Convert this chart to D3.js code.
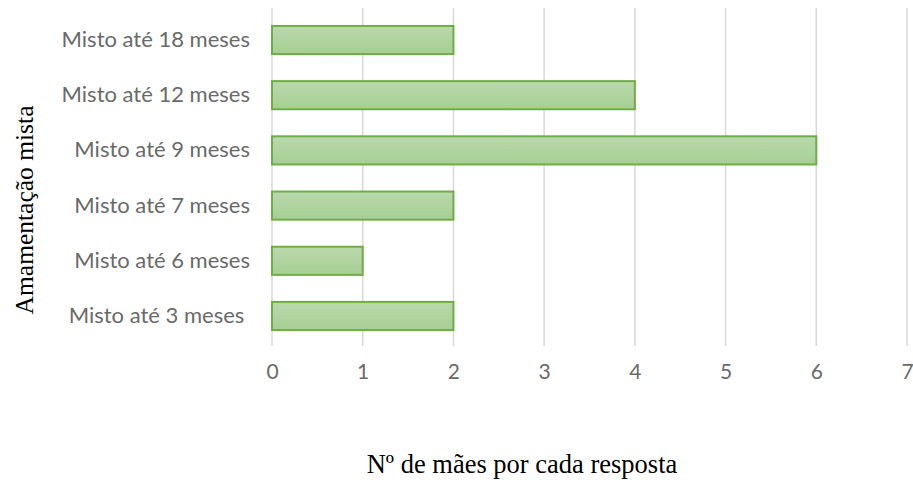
<!DOCTYPE html>
<html><head><meta charset="utf-8">
<script src="https://cdn.jsdelivr.net/npm/d3@7"></script>
<style>body{margin:0;background:#fff}</style>
</head><body>
<svg id="c" width="913" height="482"></svg>
<script>
const categories = ["Misto até 18 meses","Misto até 12 meses","Misto até 9 meses","Misto até 7 meses","Misto até 6 meses","Misto até 3 meses "];
const values = [2,4,6,2,1,2];
const xTicks = [0,1,2,3,4,5,6,7];
const xTitle = "Nº de mães por cada resposta";
const yTitle = "Amamentação mista";

const svg = d3.select("#c");
const m = {left:272, right:6, top:12.4, bottom:138.4};
const W = 913, H = 482;
const x = d3.scaleLinear().domain([0,7]).range([m.left, W-m.right]);
const y = d3.scaleBand().domain(categories).range([m.top, H-m.bottom]).paddingInner(0.49).paddingOuter(0.245);

const defs = svg.append("defs");
const g = defs.append("linearGradient").attr("id","gr").attr("x1",0).attr("y1",0).attr("x2",0).attr("y2",1);
g.append("stop").attr("offset","0%").attr("stop-color","#b9d9ac");
g.append("stop").attr("offset","100%").attr("stop-color","#a6cf93");

svg.append("g").selectAll("line").data(xTicks).join("line")
  .attr("x1",d=>x(d)).attr("x2",d=>x(d)).attr("y1",8).attr("y2",346)
  .attr("stroke","#d9d9d9").attr("stroke-width",1.5);

svg.append("g").selectAll("rect").data(values).join("rect")
  .attr("x",x(0)).attr("y",(d,i)=>y(categories[i]))
  .attr("width",d=>x(d)-x(0)).attr("height",y.bandwidth())
  .attr("fill","url(#gr)").attr("stroke","#70ad47").attr("stroke-width",2);

const ax = svg.append("g").attr("transform",`translate(0,${H-m.bottom})`)
  .call(d3.axisBottom(x).tickValues(xTicks).tickFormat(d3.format("d")).tickSize(0).tickPadding(20));
ax.select(".domain").remove();
ax.selectAll("text").attr("fill","#6a6a6a").style("font-family","Lato, 'Open Sans', sans-serif").style("font-size","21px");

const ay = svg.append("g").attr("transform",`translate(${m.left-22},0)`)
  .call(d3.axisLeft(y).tickSize(0).tickPadding(0));
ay.select(".domain").remove();
ay.selectAll("text").attr("fill","#6a6a6a").style("font-family","Lato, 'Open Sans', sans-serif").style("font-size","22px").style("white-space","pre").attr("xml:space","preserve");

svg.append("text").attr("x",522).attr("y",473).attr("text-anchor","middle")
  .style("font-family","'Liberation Serif', 'Times New Roman', serif").style("font-size","26.5px").attr("fill","#000").text(xTitle);
svg.append("text").attr("transform","translate(33,210) rotate(-90)").attr("text-anchor","middle")
  .style("font-family","'Liberation Serif', 'Times New Roman', serif").style("font-size","25.5px").attr("fill","#000").text(yTitle);
</script>
</body></html>
